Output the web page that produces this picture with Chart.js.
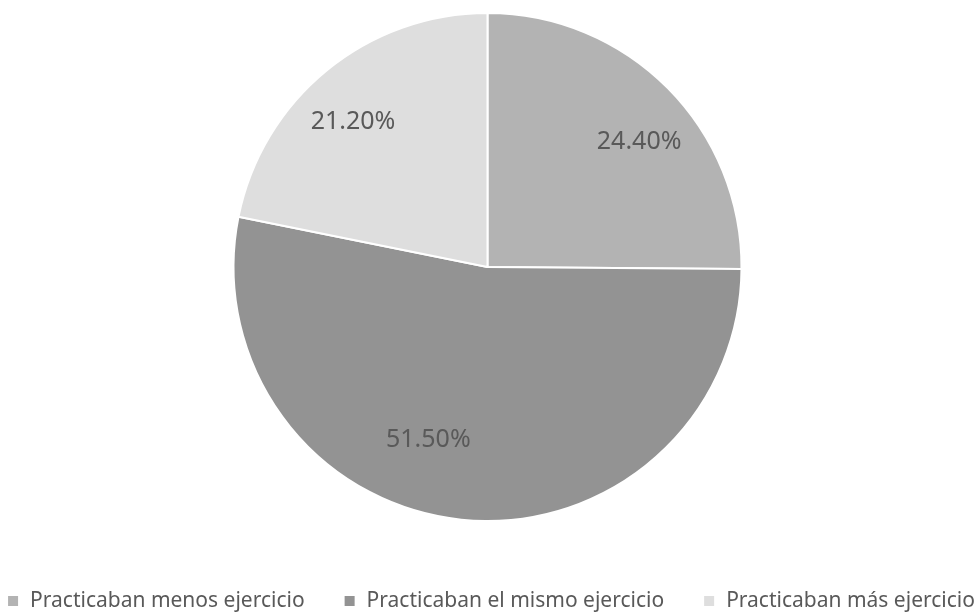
<!DOCTYPE html>
<html><head><meta charset="utf-8">
<script src="https://cdn.jsdelivr.net/npm/chart.js@4"></script>
<style>html,body{margin:0;padding:0;background:#fff}#wrap{width:975px;height:613px}</style>
</head><body><div id="wrap"><canvas id="c" width="975" height="613"></canvas></div>
<script>
const categories = ['Practicaban menos ejercicio', 'Practicaban el mismo ejercicio', 'Practicaban más ejercicio'];
const values = [24.4, 51.5, 21.2];
const valueLabels = ['24.40%', '51.50%', '21.20%'];
const colors = ['#b3b3b3', '#939393', '#dedede'];

const labelPlugin = {
  id: 'sliceLabels',
  afterDatasetsDraw(chart, args, opts) {
    const ctx = chart.ctx;
    const meta = chart.getDatasetMeta(0);
    ctx.save();
    ctx.font = opts.font;
    ctx.fillStyle = opts.color;
    ctx.textAlign = 'center';
    ctx.textBaseline = 'middle';
    meta.data.forEach((arc, i) => {
      const p = arc.getProps(['x','y','startAngle','endAngle','outerRadius'], true);
      const mid = (p.startAngle + p.endAngle) / 2 + (opts.angleShift[i] || 0);
      const r = p.outerRadius * opts.radiusFrac[i];
      ctx.fillText(valueLabels[i], p.x + Math.cos(mid) * r, p.y + Math.sin(mid) * r);
    });
    ctx.restore();
  }
};

const legendPlugin = {
  id: 'bottomLegend',
  afterDraw(chart, args, opts) {
    const ctx = chart.ctx;
    const ds = chart.data.datasets[0];
    ctx.save();
    ctx.font = opts.font;
    ctx.textBaseline = 'middle';
    ctx.textAlign = 'left';
    const widths = chart.data.labels.map(t => opts.box + opts.boxGap + ctx.measureText(t).width);
    const total = widths.reduce((a, b) => a + b, 0) + opts.itemGap * (widths.length - 1);
    let x = (chart.width - total) / 2 + opts.shiftX;
    const y = opts.y;
    chart.data.labels.forEach((t, i) => {
      ctx.fillStyle = ds.backgroundColor[i];
      ctx.fillRect(x, y - opts.box / 2, opts.box, opts.box);
      ctx.fillStyle = opts.color;
      ctx.fillText(t, x + opts.box + opts.boxGap, y);
      x += widths[i] + opts.itemGap;
    });
    ctx.restore();
  }
};

new Chart(document.getElementById('c'), {
  type: 'pie',
  data: { labels: categories, datasets: [{ data: values, backgroundColor: colors, borderColor: '#ffffff', borderWidth: 2 }] },
  options: {
    responsive: false, animation: false,
    layout: { padding: { top: 12, bottom: 91, left: 0, right: 0 } },
    plugins: {
      tooltip: { enabled: false },
      legend: { display: false },
      sliceLabels: { font: '25px "Noto Sans"', color: '#595959', radiusFrac: [0.775, 0.72, 0.78], angleShift: [0.09, 0.226, -0.06] },
      bottomLegend: { font: '21px "Noto Sans"', color: '#595959', box: 10, boxGap: 12, itemGap: 40, y: 601, shiftX: 4 }
    }
  },
  plugins: [labelPlugin, legendPlugin]
});
</script></body></html>
